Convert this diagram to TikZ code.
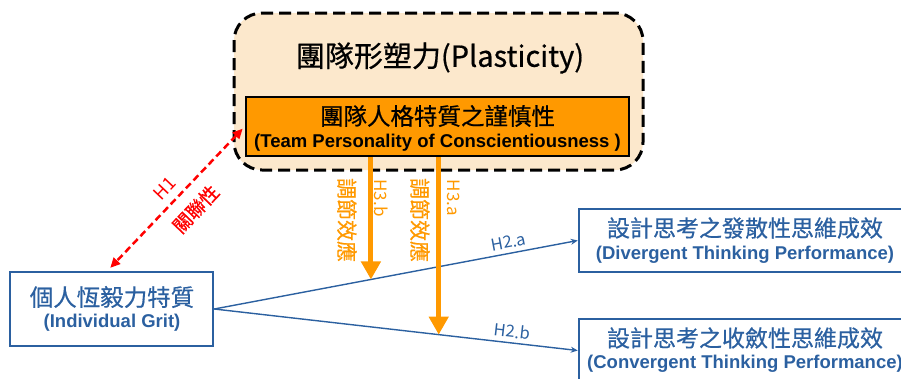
\documentclass[tikz,border=0pt]{standalone}
\usepackage{fontspec}
\setmainfont{Noto Sans CJK TC}
\newfontfamily\cjkm{Noto Sans CJK TC}[FakeBold=0.6]
\newfontfamily\en{Liberation Sans}
\usetikzlibrary{arrows.meta,calc}
\definecolor{beige}{RGB}{252,232,204}
\definecolor{orng}{RGB}{255,153,0}
\definecolor{blu}{RGB}{43,96,160}
\definecolor{redd}{RGB}{255,0,0}
\tikzset{
  fs/.style={font=\cjkm\fontsize{#1}{#1}\selectfont},
  ls/.style={font=\fontsize{#1}{#1}\selectfont},
  enfs/.style={font=\en\bfseries\fontsize{#1}{#1}\selectfont},
  bluebox/.style={draw=blu, line width=2.5pt, inner sep=0pt},
  bluelink/.style={draw=blu, line width=1.4pt, -{Stealth[length=7pt,width=6pt]}},
  modarrow/.style={draw=orng, line width=5pt, -{Triangle[length=18pt,width=19pt]}},
  vlab/.style={text=orng, rotate=-90, inner sep=0pt},
}
\begin{document}
\begin{tikzpicture}[x=1pt,y=-1pt]
\useasboundingbox (0,0) rectangle (901,378);
\clip (0,0) rectangle (901,378);
% outer dashed box
\node[draw=black, fill=beige, line width=3pt, dash pattern=on 12pt off 6pt,
      rounded corners=28pt, minimum width=409pt, minimum height=157pt, inner sep=0pt]
      (plast) at (438.5,91.5) {};
\node[fs=29] (ptitle) at (440,58) {團隊形塑力(Plasticity)};
% orange box
\node[draw=black, fill=orng, line width=2.5pt, minimum width=383pt, minimum height=59pt, inner sep=0pt]
      (cons) at (437.5,126.5) {};
\node[fs=23.5] (cons1) at (437.5,116) {團隊人格特質之謹慎性};
\node[enfs=18.5] (cons2) at (437.5,143) {(Team Personality of Conscientiousness )};
% grit box
\node[bluebox, minimum width=203pt, minimum height=74pt] (grit) at (111.5,309) {};
\node[fs=23.5, text=blu] (grit1) at (112,297) {個人恆毅力特質};
\node[enfs=18.5, text=blu] (grit2) at (112,323) {(Individual Grit)};
% outcome boxes
\node[bluebox, minimum width=326pt, minimum height=63pt] (div) at (742,240.5) {};
\node[fs=23, text=blu] (div1) at (745,228) {設計思考之發散性思維成效};
\node[enfs=18.5, text=blu] (div2) at (745,255) {(Divergent Thinking Performance)};
\node[bluebox, minimum width=326pt, minimum height=63pt] (conv) at (742,350.5) {};
\node[fs=23, text=blu] (conv1) at (745,338) {設計思考之收斂性思維成效};
\node[enfs=18.5, text=blu] (conv2) at (745,364) {(Convergent Thinking Performance)};
% main effects
\draw[bluelink] (grit.east) -- node[pos=0.816, sloped, above=1pt, ls=16.5, text=blu] (h2a) {H2.a} (div.west);
\draw[bluelink] (grit.east) -- node[pos=0.816, sloped, above=1pt, ls=16.5, text=blu] (h2b) {H2.b} (conv.west);
% moderation arrows
\coordinate (t1) at ($(grit.east)!0.431!(div.west)$);
\coordinate (t2) at ($(grit.east)!0.6175!(conv.west)$);
\draw[modarrow] (cons.south -| t1) -- (t1);
\draw[modarrow] (cons.south -| t2) -- (t2);
\node[vlab, fs=21] (m1) at (347,220) {調節效應};
\node[vlab, ls=17] (h3b) at (381,198) {H3.b};
\node[vlab, fs=21] (m2) at (420,220) {調節效應};
\node[vlab, ls=17] (h3a) at (454,198) {H3.a};
% correlation
\draw[redd, line width=2.5pt, dash pattern=on 7pt off 4pt,
      {Triangle[length=10pt,width=9pt]}-{Triangle[length=10pt,width=9pt]},
      shorten <=3pt, shorten >=4pt]
  (cons.west) -- node[sloped, above=4pt, ls=18, text=redd] (h1) {H1}
                 node[pos=0.47, sloped, below=8pt, fs=19, text=redd] (rel) {關聯性} ([xshift=-4pt]grit.north);
\end{tikzpicture}
\end{document}
